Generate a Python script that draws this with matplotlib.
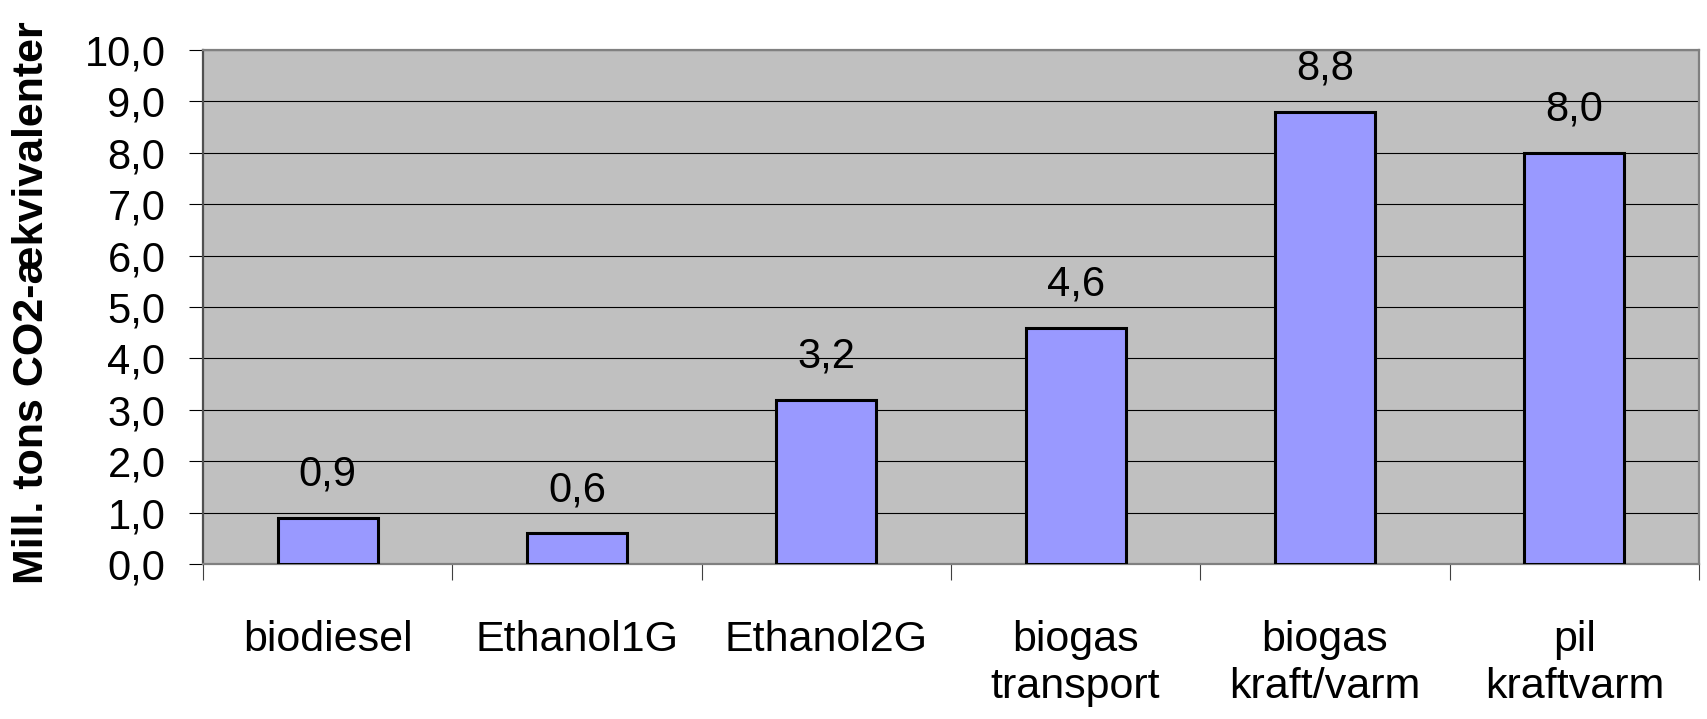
import matplotlib
matplotlib.use("Agg")
import matplotlib.pyplot as plt
import numpy as np

categories = ["biodiesel", "Ethanol1G", "Ethanol2G", "biogas\ntransport", "biogas\nkraft/varm", "pil\nkraftvarm"]
values = [0.9, 0.6, 3.2, 4.6, 8.8, 8.0]
yticks = [0, 1, 2, 3, 4, 5, 6, 7, 8, 9, 10]
ylabel = "Mill. tons CO2-ækvivalenter"

plt.rcParams['font.family'] = ['Liberation Sans', 'DejaVu Sans']

W, H, DPI = 1708, 719, 100
fig = plt.figure(figsize=(W / DPI, H / DPI), dpi=DPI)
L, R, T, B = 203, 1699, 50, 564
ax = fig.add_axes([L / W, 1 - B / H, (R - L) / W, (B - T) / H])
ax.set_facecolor("#C0C0C0")

x = np.arange(len(categories))
bars = ax.bar(x, values, width=0.4, color="#9999FF", edgecolor="black", linewidth=2.2, zorder=3)

ax.set_xlim(-0.5, len(categories) - 0.5)
ax.set_ylim(0, 10)
ax.set_yticks(yticks)
ax.set_yticklabels([f"{v:.1f}".replace(".", ",") for v in yticks], fontsize=30)
ax.yaxis.grid(True, color="black", linewidth=0.8, zorder=1)
ax.set_axisbelow(True)

ax.set_xticks(x)
ax.set_xticklabels(categories, fontsize=31, va="top", linespacing=1.25)
ax.tick_params(axis="x", which="major", length=0, pad=40)
ax.set_xticks(np.arange(-0.5, len(categories), 1.0), minor=True)
ax.tick_params(axis="x", which="minor", length=11.5, width=0.8, color="#404040", direction="out")
ax.tick_params(axis="y", which="major", length=10, width=0.8, color="black", direction="out", pad=17)

for side in ["top", "right", "bottom"]:
    ax.spines[side].set_color("#808080")
    ax.spines[side].set_linewidth(1.6)
ax.spines["left"].set_color("#505050")
ax.spines["left"].set_linewidth(1.6)

for xi, v in zip(x, values):
    ax.annotate(f"{v:.1f}".replace(".", ","), (xi, v), xytext=(0, 23), textcoords="offset points",
                ha="center", va="baseline", fontsize=30, zorder=4)

fig.text(32 / W, 1 - 303 / H, ylabel, rotation=90, ha="center", va="center",
         fontsize=31, fontweight="bold")

fig.savefig("out.png", dpi=DPI)
